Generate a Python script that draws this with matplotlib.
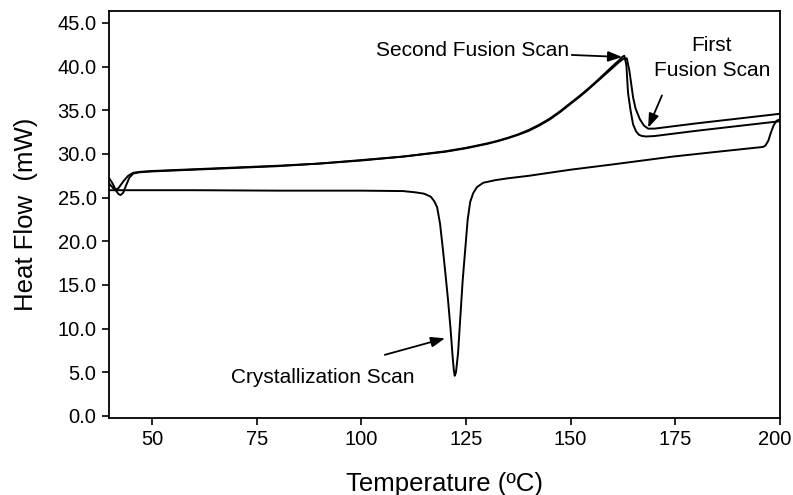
import numpy as np
import matplotlib
matplotlib.use("Agg")
import matplotlib.pyplot as plt
import matplotlib.transforms as mtransforms

plt.rcParams['font.family'] = ['Liberation Sans', 'DejaVu Sans']

# ---- DSC scans: temperature (°C) / heat flow (mW) ----
# first fusion scan (upper baseline after melting)
t_first = [39.8, 40.5, 41.2, 42.0, 43.2, 44.3, 45.5, 47.0, 50, 60, 70, 80, 90, 100,
           110, 120, 125, 130, 132.5, 135, 137.5, 140, 142.5, 145, 147.5, 150, 152, 154,
           156, 158, 160, 161.5, 162.6, 163.4,
           164.0, 164.5, 164.9, 165.5, 166.5, 167.5, 168.5, 170, 180, 190, 200]
hf_first = [26.6, 26.2, 25.85, 26.1, 26.9, 27.5, 27.85, 27.95, 28.05, 28.25, 28.45, 28.65, 28.9, 29.25,
            29.7, 30.25, 30.65, 31.15, 31.45, 31.8, 32.2, 32.65, 33.25, 33.95, 34.8, 35.75, 36.5, 37.3,
            38.15, 39.0, 39.85, 40.5, 40.9, 40.95,
            39.6, 37.9, 36.5, 35.2, 34.0, 33.25, 32.9, 32.9, 33.5, 34.05, 34.6]

# second fusion scan (lower baseline after melting)
t_second = [39.8, 40.6, 41.4, 42.0, 42.5, 43.1, 43.8, 44.6, 45.5, 47.0, 50, 60, 70, 80, 90, 100,
            110, 120, 125, 130, 132.5, 135, 137.5, 140, 142.5, 145, 147.5, 150, 152, 154,
            156, 158, 160, 161.5, 162.3, 162.8,
            163.3, 163.7, 164.3, 164.9, 165.6, 166.3, 167.0, 168.0, 170, 180, 190, 200]
hf_second = [27.2, 26.6, 25.8, 25.4, 25.3, 25.55, 26.4, 27.3, 27.75, 27.9, 28.0, 28.2, 28.4, 28.6, 28.9, 29.3,
             29.7, 30.3, 30.7, 31.2, 31.5, 31.85, 32.25, 32.75, 33.35, 34.05, 34.9, 35.85, 36.6, 37.4,
             38.25, 39.15, 40.05, 40.7, 41.1, 41.25,
             40.2, 37.0, 35.0, 33.4, 32.6, 32.2, 32.06, 32.0, 32.05, 32.65, 33.2, 33.75]

# crystallization (cooling) scan
t_cryst = [39.8, 45, 60, 80, 100, 110, 113, 115, 116.6, 117.4, 118.1, 118.8, 119.5, 120.1,
           120.7, 121.3, 121.8, 122.1, 122.3, 122.6, 123.1, 123.6, 124.2, 124.8, 125.4,
           126.0, 126.7, 127.6, 129.1, 132, 134.8, 140, 150, 160, 174.4, 185, 195.9, 196.5,
           197.2, 197.8, 198.5, 199.2, 199.9]
hf_cryst = [25.85, 25.85, 25.85, 25.8, 25.8, 25.75, 25.6, 25.45, 25.1, 24.6, 23.9, 22.0, 19.0, 16.2,
            13.3, 10.0, 6.8, 5.2, 4.6, 5.0, 7.2, 11.0, 15.5, 19.0, 22.5,
            24.5, 25.5, 26.2, 26.7, 27.0, 27.2, 27.5, 28.2, 28.8, 29.7, 30.25, 30.8, 30.95,
            31.5, 32.4, 33.3, 33.8, 33.95]

y_ticks = [0, 5, 10, 15, 20, 25, 30, 35, 40, 45]
x_ticks = [50, 75, 100, 125, 150, 175, 200]

fig = plt.figure(figsize=(7.93, 4.95), dpi=100)
ax = fig.add_axes([0.1375, 0.1556, 0.8461, 0.8222])

for t, hf in [(t_first, hf_first), (t_second, hf_second), (t_cryst, hf_cryst)]:
    ax.plot(t, hf, color='black', lw=1.4)

ax.set_xlim(39.73, 200)
ax.set_ylim(-0.23, 46.37)
ax.set_xticks(x_ticks)
ax.set_yticks(y_ticks)
ax.set_yticklabels([f"{v:.1f}" for v in y_ticks])
ax.tick_params(direction='out', length=5, width=1.2, labelsize=14.5, pad=4)
for s in ax.spines.values():
    s.set_linewidth(1.3)

# keep the last x label inside the figure
last = ax.get_xticklabels()[-1]
last.set_transform(last.get_transform() + mtransforms.ScaledTranslation(-5 / 100, 0, fig.dpi_scale_trans))

ax.set_xlabel('Temperature (ºC)', fontsize=18.5, labelpad=16)
ax.set_ylabel('Heat Flow  (mW)', fontsize=18.5, labelpad=14)

arrow = dict(arrowstyle='-|>,head_length=0.6,head_width=0.22', color='black', lw=1.3,
             mutation_scale=14, shrinkA=0, shrinkB=0)
ax.annotate('Second Fusion Scan', xy=(162.3, 41.1), xytext=(149.6, 41.8),
            fontsize=15, ha='right', va='center', arrowprops=arrow)
ax.annotate('', xy=(168.5, 33.0), xytext=(171.8, 36.7), arrowprops=arrow)
ax.text(183.7, 41.0, 'First\nFusion Scan', fontsize=15, ha='center', va='center',
        linespacing=1.35)
ax.annotate('', xy=(120.0, 8.9), xytext=(105.6, 7.0), arrowprops=arrow)
ax.text(90.8, 4.4, 'Crystallization Scan', fontsize=15, ha='center', va='center')

fig.savefig('out.png', dpi=100)
